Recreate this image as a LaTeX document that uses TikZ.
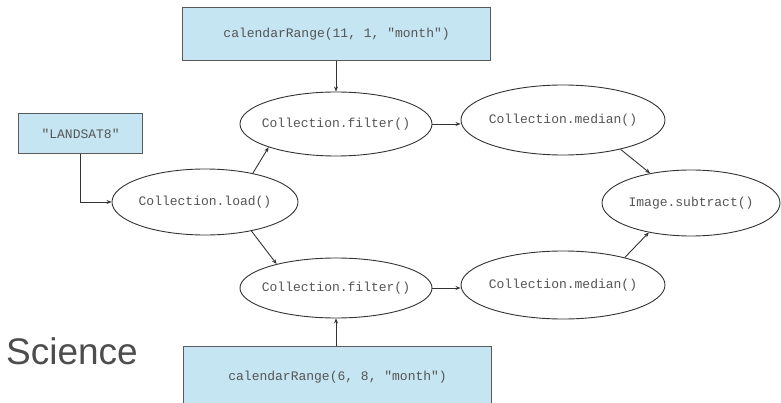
\documentclass[tikz,border=0pt]{standalone}
\usepackage{fontspec}
\setmainfont{Liberation Sans}
\newfontfamily\codefont{Liberation Mono}
\usetikzlibrary{shapes.geometric,arrows.meta}
\definecolor{boxfill}{HTML}{C4E5F1}
\definecolor{boxline}{HTML}{5A5A5A}
\definecolor{codetext}{HTML}{555555}
\definecolor{wire}{HTML}{333333}
\definecolor{sciencecol}{HTML}{4D4D4D}
\tikzset{
  codetype/.style={font=\codefont\fontsize{13}{15}\selectfont, text=codetext},
  inbox/.style={draw=boxline, line width=1.2pt, fill=boxfill, inner sep=0pt, anchor=north west, codetype},
  oval/.style={ellipse, draw=black!80, line width=0.9pt, inner sep=0pt,
    label={[codetype, inner sep=0pt]center:#1}},
  conn/.style={draw=wire, line width=0.9pt, -{Stealth[length=5pt,width=4pt]}},
}
\begin{document}
\begin{tikzpicture}[x=1pt,y=-1pt]
\clip (0,0) rectangle (781,403);
\fill[white] (0,0) rectangle (781,403);
% input boxes
\node[inbox, minimum width=308pt, minimum height=53pt] (rangeA) at (182,7) {calendarRange(11, 1, "month")};
\node[inbox, minimum width=124pt, minimum height=40pt] (landsat) at (18,113) {"LANDSAT8"};
\node[inbox, minimum width=308pt, minimum height=62pt] (rangeB) at (183,346) {calendarRange(6, 8, "month")};
% ellipses
\node[oval={Collection.load()}, minimum width=186pt, minimum height=66pt] (load) at (205,202) {};
\node[oval={Collection.filter()}, minimum width=192pt, minimum height=64pt] (filtA) at (336,124) {};
\node[oval={Collection.median()}, minimum width=204pt, minimum height=70pt] (medA) at (563,120) {};
\node[oval={Collection.filter()}, minimum width=192pt, minimum height=60pt] (filtB) at (336,288) {};
\node[oval={Collection.median()}, minimum width=204pt, minimum height=68pt] (medB) at (563,285) {};
\node[oval={Image.subtract()}, minimum width=178pt, minimum height=66pt] (sub) at (691,203) {};
% connectors
\draw[conn] (rangeA.south -| filtA.north) -- (filtA.north);
\draw[conn] (rangeB.north -| filtB.south) -- (filtB.south);
\draw[conn] (landsat.south west) ++(62,0) |- (load.west);
\draw[conn] (load.31) -- (filtA.199);
\draw[conn] (load.-32) -- (filtB.158);
\draw[conn] (filtA.east) -- (medA.west |- filtA.east);
\draw[conn] (filtB.east) -- (medB.west |- filtB.east);
\draw[conn] (medA.-27) -- (sub.144);
\draw[conn] (medB.24) -- (sub.215);
% side text
\node[anchor=base west, inner sep=0pt, text=sciencecol, font=\fontsize{37}{40}\selectfont] (science) at (6,364) {Science};
\end{tikzpicture}
\end{document}
